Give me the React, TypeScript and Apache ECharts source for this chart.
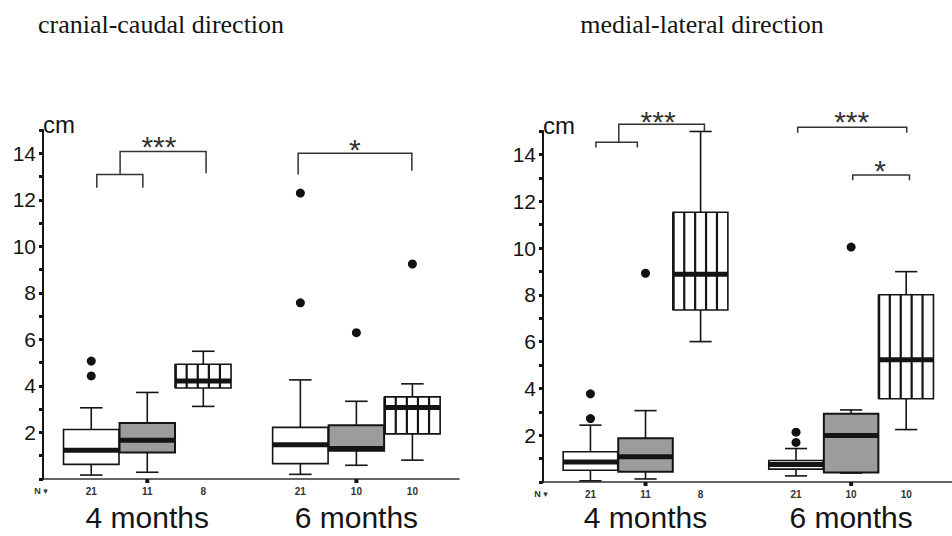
import React, { useEffect, useRef } from "react";
import * as echarts from "echarts";

// ---- data ----
const groupLabels = ["4 months", "6 months"];
const nLabels = ["21", "11", "8", "21", "10", "10"];
const boxKinds = [0, 1, 2, 0, 1, 2]; // 0 white, 1 gray, 2 striped

// cranial-caudal
const ccMin = [0.17, 0.29, 3.12, 0.2, 0.59, 0.81];
const ccQ1 = [0.63, 1.14, 3.91, 0.66, 1.21, 1.94];
const ccMed = [1.24, 1.67, 4.21, 1.47, 1.31, 3.07];
const ccQ3 = [2.13, 2.41, 4.93, 2.22, 2.31, 3.53];
const ccMax = [3.06, 3.72, 5.49, 4.26, 3.34, 4.09];
const ccOutliers = [[0, 5.07], [0, 4.43], [3, 12.29], [3, 7.57], [4, 6.29], [5, 9.24]];

// medial-lateral
const mlMin = [0.05, 0.13, 6.0, 0.26, 0.38, 2.24];
const mlQ1 = [0.5, 0.44, 7.35, 0.55, 0.41, 3.56];
const mlMed = [0.86, 1.08, 8.88, 0.75, 1.99, 5.22];
const mlQ3 = [1.29, 1.87, 11.53, 0.92, 2.92, 8.0];
const mlMax = [2.43, 3.05, 14.98, 1.43, 3.08, 8.99];
const mlOutliers = [[0, 3.77], [0, 2.71], [1, 8.92], [3, 2.13], [3, 1.69], [4, 10.04]];

// significance brackets: [x1, x2, yBar, yLeftEnd, yRightEnd]
const ccBrackets = [
  [0.97, 1.8, 13.09, 12.52, 12.52],
  [1.39, 2.94, 14.08, 13.09, 13.14],
  [4.6, 6.65, 14.0, 13.09, 13.25],
];
const ccStars = [["***", 2.09, 14.57], ["*", 5.62, 14.44]];
const mlBrackets = [
  [0.97, 1.73, 14.52, 14.29, 14.29],
  [1.39, 2.96, 15.29, 14.52, 14.98],
  [4.67, 6.67, 15.16, 14.93, 14.93],
  [5.68, 6.72, 13.12, 12.9, 12.9],
];
const mlStars = [["***", 2.11, 15.68], ["***", 5.66, 15.68], ["*", 6.18, 13.55]];

// ---- layout ----
const xs = [0.87, 1.88, 2.89, 4.64, 5.65, 6.66];
const groupCenters = [1, 4];
const GRAY = "#9c9c9c";
const INK = "#141414";

function boxData(mn: number[], q1: number[], md: number[], q3: number[], mx: number[]) {
  return xs.map((x, i) => [x, mn[i], q1[i], md[i], q3[i], mx[i], boxKinds[i]]);
}

function renderBox(params: any, api: any) {
  const x = api.value(0);
  const kind = api.value(6);
  const pMin = api.coord([x, api.value(1)]);
  const pQ1 = api.coord([x, api.value(2)]);
  const pMed = api.coord([x, api.value(3)]);
  const pQ3 = api.coord([x, api.value(4)]);
  const pMax = api.coord([x, api.value(5)]);
  const w = api.size([1, 0])[0];
  const half = w / 2;
  const cap = w * 0.37;
  const cx = pMed[0];
  const ls = { stroke: INK, lineWidth: 1.6 };
  const children: any[] = [
    { type: "line", shape: { x1: cx, y1: pMax[1], x2: cx, y2: pQ3[1] }, style: ls },
    { type: "line", shape: { x1: cx, y1: pQ1[1], x2: cx, y2: pMin[1] }, style: ls },
    { type: "line", shape: { x1: cx - cap / 2 - 1, y1: pMax[1], x2: cx + cap / 2 + 1, y2: pMax[1] }, style: ls },
    { type: "line", shape: { x1: cx - cap / 2 - 1, y1: pMin[1], x2: cx + cap / 2 + 1, y2: pMin[1] }, style: ls },
    {
      type: "rect",
      shape: { x: cx - half, y: pQ3[1], width: w, height: pQ1[1] - pQ3[1] },
      style: { fill: kind === 1 ? GRAY : "#ffffff", stroke: INK, lineWidth: kind === 1 ? 2 : 1.6 },
    },
  ];
  if (kind === 2) {
    const cols = 5;
    for (let k = 1; k < cols; k++) {
      const lx = cx - half + (w * k) / cols;
      children.push({
        type: "line",
        shape: { x1: lx, y1: pQ3[1], x2: lx, y2: pQ1[1] },
        style: { stroke: INK, lineWidth: 2.2 },
      });
    }
    children.push({
      type: "line",
      shape: { x1: cx - half, y1: pQ3[1], x2: cx - half, y2: pQ1[1] },
      style: { stroke: INK, lineWidth: 2.6 },
    });
  }
  children.push({
    type: "line",
    shape: { x1: cx - half, y1: pMed[1], x2: cx + half, y2: pMed[1] },
    style: { stroke: INK, lineWidth: 5 },
  });
  return { type: "group", children };
}

function renderBracket(params: any, api: any) {
  const x1 = api.value(0), x2 = api.value(1), yb = api.value(2), yl = api.value(3), yr = api.value(4);
  const a = api.coord([x1, yl]);
  const b = api.coord([x1, yb]);
  const c = api.coord([x2, yb]);
  const d = api.coord([x2, yr]);
  return {
    type: "polyline",
    shape: { points: [a, b, c, d] },
    style: { stroke: "#333", lineWidth: 1.5, fill: "none" },
  };
}

function txt(text: string, x: number, y: number, font: string, align = "center", fill = INK) {
  return {
    type: "text",
    x,
    y,
    style: {
      text,
      font,
      fill,
      align,
      textAlign: align,
      verticalAlign: "middle",
      textVerticalAlign: "middle",
    },
  };
}

function renderStar(params: any, api: any) {
  const i = params.dataIndex;
  const p = api.coord([api.value(0), api.value(1)]);
  const label = (params as any).seriesName === "ccStars" ? ccStars[i][0] : mlStars[i][0];
  return txt(String(label), p[0], p[1] + 6, '30px "Liberation Sans", Arial, sans-serif', "center", "#333");
}

function renderNLabel(params: any, api: any) {
  const i = params.dataIndex;
  const p = api.coord([api.value(0), 0]);
  return txt(nLabels[i], p[0], p[1] + 12, 'bold 10px "Liberation Sans", Arial, sans-serif', "center", "#333");
}

function makeRenderGroup(offset: number) {
  return function renderGroup(params: any, api: any) {
    const i = params.dataIndex;
    const p = api.coord([api.value(0), 0]);
    const children: any[] = [
      txt(groupLabels[i], p[0], p[1] + offset, '30px "Liberation Sans", Arial, sans-serif', "center", INK),
      { type: "rect", shape: { x: p[0] - 2, y: p[1], width: 4, height: 4 }, style: { fill: INK } },
    ];
    if (i === 0) {
      const o = api.coord([0, 0]);
      children.push(txt("N \u25BE", o[0] - 2, o[1] + 12, 'bold 9px "Liberation Sans", "DejaVu Sans", sans-serif', "center", "#333"));
    }
    return { type: "group", children };
  };
}

function makeYAxis(gridIndex: number) {
  return {
    type: "value",
    gridIndex,
    min: 0,
    max: 15,
    interval: 1,
    name: "cm",
    nameLocation: "end",
    nameGap: -6,
    nameTextStyle: {
      align: "left",
      verticalAlign: "bottom",
      fontSize: 24,
      color: INK,
      fontFamily: '"Liberation Sans", Arial, sans-serif',
    },
    axisLine: { show: true, lineStyle: { color: INK, width: 2 } },
    axisTick: { show: true, length: 4, lineStyle: { color: INK, width: 3 } },
    axisLabel: {
      margin: 7,
      fontSize: 21,
      color: INK,
      fontFamily: '"Liberation Sans", Arial, sans-serif',
      formatter: (v: number) => (v > 0 && v < 15 && v % 2 === 0 ? String(v) : ""),
    },
    splitLine: { show: false },
  };
}

function makeXAxis(gridIndex: number) {
  return {
    type: "value",
    gridIndex,
    min: 0,
    max: 7.5,
    axisLine: { show: true, onZero: false, lineStyle: { color: "#333", width: 1.6 } },
    axisTick: { show: false },
    axisLabel: { show: false },
    splitLine: { show: false },
  };
}

function panelSeries(idx: number, boxes: any[], outliers: number[][], brackets: number[][], stars: any[], starName: string, groupOffset: number) {
  return [
    {
      type: "custom",
      xAxisIndex: idx,
      yAxisIndex: idx,
      clip: false,
      renderItem: renderBox,
      data: boxes,
      z: 2,
    },
    {
      type: "scatter",
      xAxisIndex: idx,
      yAxisIndex: idx,
      symbol: "circle",
      symbolSize: 9,
      itemStyle: { color: "#111", opacity: 1 },
      data: outliers.map((o) => [xs[o[0]], o[1]]),
      z: 3,
    },
    {
      type: "custom",
      xAxisIndex: idx,
      yAxisIndex: idx,
      clip: false,
      renderItem: renderBracket,
      data: brackets,
    },
    {
      type: "custom",
      name: starName,
      xAxisIndex: idx,
      yAxisIndex: idx,
      clip: false,
      renderItem: renderStar,
      data: stars.map((s) => [s[1], s[2]]),
    },
    {
      type: "custom",
      xAxisIndex: idx,
      yAxisIndex: idx,
      clip: false,
      renderItem: renderNLabel,
      data: xs.map((x) => [x, 0]),
    },
    {
      type: "custom",
      xAxisIndex: idx,
      yAxisIndex: idx,
      clip: false,
      renderItem: makeRenderGroup(groupOffset),
      data: groupCenters.map((g) => [xs[g], 0]),
    },
  ];
}

export default function App() {
  const ref = useRef<HTMLDivElement>(null);
  useEffect(() => {
    if (!ref.current) return;
    const chart = echarts.init(ref.current, undefined, { renderer: "svg" });
    const titleStyle = {
      font: '26px "Liberation Serif", "Times New Roman", serif',
      fill: INK,
      textAlign: "center",
      align: "center",
      textVerticalAlign: "middle",
      verticalAlign: "middle",
    };
    const option: any = {
      animation: false,
      backgroundColor: "#ffffff",
      graphic: [
        { type: "text", x: 161, y: 24, style: { text: "cranial-caudal direction", ...titleStyle } },
        { type: "text", x: 702, y: 24, style: { text: "medial-lateral direction", ...titleStyle } },
      ],
      grid: [
        { left: 43, top: 130, width: 416, height: 349 },
        { left: 543, top: 131, width: 416, height: 351 },
      ],
      xAxis: [makeXAxis(0), makeXAxis(1)],
      yAxis: [makeYAxis(0), makeYAxis(1)],
      series: [
        ...panelSeries(0, boxData(ccMin, ccQ1, ccMed, ccQ3, ccMax), ccOutliers, ccBrackets, ccStars, "ccStars", 38),
        ...panelSeries(1, boxData(mlMin, mlQ1, mlMed, mlQ3, mlMax), mlOutliers, mlBrackets, mlStars, "mlStars", 35),
      ],
    };
    chart.setOption(option);
    return () => chart.dispose();
  }, []);
  return (
    <div
      ref={ref}
      style={{ position: "absolute", left: 0, top: 0, width: 952, height: 536, background: "#fff" }}
    />
  );
}
